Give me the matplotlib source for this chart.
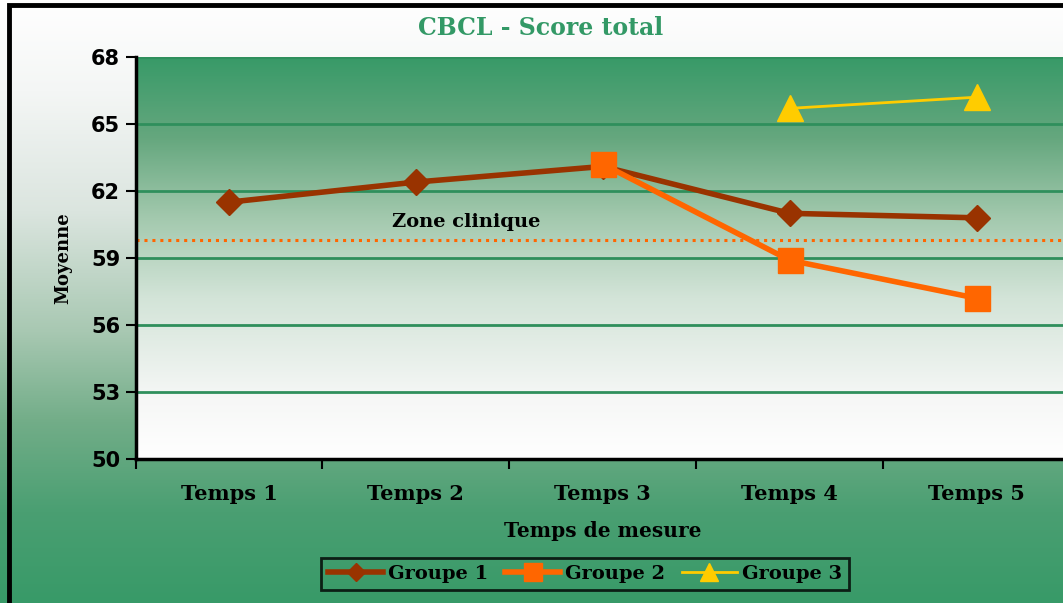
import numpy as np
import matplotlib
matplotlib.use("Agg")
import matplotlib.pyplot as plt
from matplotlib.colors import LinearSegmentedColormap
from matplotlib.patches import Rectangle

# data
temps = ["Temps 1", "Temps 2", "Temps 3", "Temps 4", "Temps 5"]
groupe1 = [61.5, 62.4, 63.1, 61.0, 60.8]
groupe2 = [None, None, 63.2, 58.9, 57.2]
groupe3 = [None, None, None, 65.7, 66.2]
zone_clinique = 59.8
yticks = [50, 53, 56, 59, 62, 65, 68]

serif = "DejaVu Serif"
fig = plt.figure(figsize=(10.63, 6.03), dpi=100)

# figure background gradient (white top -> green bottom)
bg = fig.add_axes([0, 0, 1, 1], zorder=-10)
bg_cmap = LinearSegmentedColormap.from_list(
    "bg", [(0, "#389a68"), (0.15, "#4a9f72"), (0.3, "#72ad88"), (0.45, "#a8c8b2"),
           (0.65, "#dbe5df"), (0.85, "#f4f6f5"), (1, "#ffffff")])
bg.imshow(np.linspace(0, 1, 256).reshape(-1, 1), aspect="auto", cmap=bg_cmap,
          origin="lower", extent=[0, 1, 0, 1])
bg.set_axis_off()
fig.patches.append(Rectangle((9 / 1063, -0.05), 1.1, 1.05 - 5 / 603,
                             transform=fig.transFigure, fill=False,
                             edgecolor="black", linewidth=3.5, zorder=5))

ax = fig.add_axes([135.5 / 1063, 144 / 603, 934.5 / 1063, 402 / 603])
ax.patch.set_alpha(0)
pa_cmap = LinearSegmentedColormap.from_list(
    "pa", [(0, "#ffffff"), (0.15, "#f6f7f6"), (0.4, "#d3e4d8"), (0.6, "#a3c9ae"),
           (0.8, "#65a77e"), (1, "#389a68")])
ax.imshow(np.linspace(0, 1, 256).reshape(-1, 1), aspect="auto", cmap=pa_cmap,
          origin="lower", extent=[0, 1, 0, 1], transform=ax.transAxes, zorder=0)

x = np.arange(len(temps))
for yt in yticks[1:]:
    ax.axhline(yt, color="#2f8f5c", linewidth=2, zorder=1)
ax.axhline(zone_clinique, color="#ff6600", linewidth=2.2, linestyle=(0, (1, 1.6)), zorder=2)
ax.text(1.27, zone_clinique + 0.4, "Zone clinique", family=serif, fontweight="bold",
        fontsize=14, ha="center", va="bottom", zorder=3)

g1 = np.array(groupe1, dtype=float)
g2 = np.array([np.nan if v is None else v for v in groupe2])
g3 = np.array([np.nan if v is None else v for v in groupe3])
ax.plot(x, g1, color="#993300", linewidth=4, marker="D", markersize=13, label="Groupe 1", zorder=4)
ax.plot(x, g2, color="#ff6600", linewidth=4, marker="s", markersize=18, label="Groupe 2", zorder=5)
ax.plot(x, g3, color="#ffcc00", linewidth=2, marker="^", markersize=19, label="Groupe 3", zorder=6)

ax.set_xlim(-0.5, 4.5)
ax.set_ylim(50, 68)
ax.set_yticks(yticks)
ax.set_yticklabels([str(v) for v in yticks], fontsize=15, fontweight="bold")
ax.set_xticks(x)
ax.set_xticklabels(temps, family=serif, fontsize=15, fontweight="bold")
ax.set_xticks(np.arange(-0.5, 5, 1), minor=True)
ax.tick_params(axis="x", which="major", length=0, pad=18)
ax.tick_params(axis="x", which="minor", length=7, width=1.5, direction="out")
ax.tick_params(axis="y", length=7, width=1.5, direction="out", pad=4)
for s in ["top", "right"]:
    ax.spines[s].set_visible(False)
for s in ["left", "bottom"]:
    ax.spines[s].set_linewidth(2.5)
    ax.spines[s].set_zorder(7)

ax.set_xlabel("Temps de mesure", family=serif, fontsize=14.5, fontweight="bold", labelpad=12)
ax.set_ylabel("Moyenne", family=serif, fontsize=13, fontweight="bold")
ax.yaxis.set_label_coords(-0.068, 0.5)

fig.text(541 / 1063, 1 - 28 / 603, "CBCL - Score total", family=serif, fontsize=17,
         fontweight="bold", color="#339966", ha="center", va="center")

leg = fig.legend(loc="center", bbox_to_anchor=(585 / 1063, 1 - 574 / 603), ncol=3,
                 prop={"family": serif, "weight": "bold", "size": 14},
                 frameon=True, fancybox=False, handlelength=2.8, columnspacing=0.9,
                 handletextpad=0.25, borderpad=0.38, markerscale=0.7)
leg.get_frame().set_edgecolor("black")
leg.get_frame().set_linewidth(2)
leg.get_frame().set_facecolor("none")

fig.savefig("out.png", dpi=100)
